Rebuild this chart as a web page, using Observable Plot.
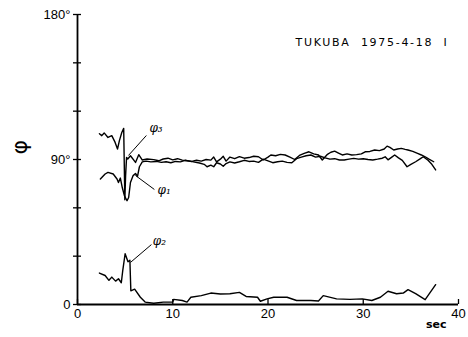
<!DOCTYPE html>
<html>
<head>
<meta charset="utf-8">
<script src="https://cdn.jsdelivr.net/npm/d3@7"></script>
<script src="https://cdn.jsdelivr.net/npm/@observablehq/plot@0.6"></script>
<style>
  html, body { margin: 0; padding: 0; background: #fff; }
  #chart svg { display: block; }
</style>
</head>
<body>
<div id="chart"></div>
<script>
// ---- data (seconds, degrees) ----
const phi3Time = [2.3,2.55,2.8,3.2,3.6,3.95,4.2,4.4,4.65,4.85,4.97,5.05,5.15,5.28,5.56,6.09,6.43,6.79,7.31,8.0,8.53,9.0,9.5,10.0,10.5,11.0,11.5,12.0,12.5,13.0,13.5,14.0,14.3,14.6,15.0,15.3,15.6,16.0,16.5,17.0,17.5,18.0,18.5,19.0,19.5,20.0,20.3,20.8,21.3,21.8,22.3,22.8,23.3,23.8,24.3,24.8,25.3,25.7,26.2,26.6,27.0,27.4,27.8,28.3,28.8,29.3,29.8,30.2,30.7,31.2,31.7,32.2,32.5,32.8,33.2,33.6,34.0,34.4,34.7,35.2,35.7,36.1,36.5,36.9,37.4];
const phi3Value = [106,104.8,106.5,103.7,104.8,100.6,96.5,101.7,106.8,109.3,65,80,91.3,90.3,92.3,88.2,93,89.7,90.3,89.9,89.2,90.3,90.8,89.8,90.5,89.6,89.2,88.8,89.5,89.0,90.0,89.6,91.5,88.5,90.2,92.0,89.0,91.5,90.5,91.8,90.8,91.2,92.0,91.7,89.7,91.5,92.8,92.3,93.2,92.8,91.5,90.0,92.5,93.8,94.8,93.5,92.8,89.7,93.0,94.5,95.2,94.0,92.8,93.5,92.8,93.0,93.5,94.8,95.0,95.9,95.5,96.5,98.3,97.5,95.9,96.5,96.9,96.3,95.9,95.0,93.8,92.8,91.7,90.2,88.6];

const phi1Time = [2.4,2.9,3.2,3.75,4.15,4.3,4.5,4.7,4.93,5.2,5.37,5.56,5.84,6.09,6.3,6.5,6.8,7.2,7.7,8.3,8.8,9.3,9.8,10.3,10.8,11.3,11.8,12.3,12.8,13.3,13.6,14.0,14.3,14.6,15.0,15.3,15.6,16.0,16.5,17.0,17.5,18.0,18.5,19.0,19.5,20.0,20.5,21.0,21.5,22.0,22.5,23.0,23.5,24.0,24.5,25.0,25.5,26.0,26.5,27.0,27.5,28.0,28.5,29.0,29.5,30.0,30.5,31.0,31.5,32.0,32.3,32.6,33.0,33.3,33.7,34.1,34.6,35.0,35.5,36.0,36.3,36.8,37.2,37.6];
const phi1Value = [77.9,81,82,81,77.9,75.7,78.5,72.6,67.5,64.4,66.4,75.7,80,81.3,79.5,85.5,88.5,89.0,88.5,88.8,88.2,88.6,88.0,88.8,88.5,89.5,89.0,88.4,87.8,87.0,85.5,86.5,85.5,88.0,87.2,85.8,87.5,88.5,87.8,88.6,89.5,88.8,89.0,88.2,90.2,89.2,88.0,88.6,89.0,88.2,88.0,90.5,91.5,92.3,92.8,91.5,92.0,91.0,90.2,90.5,89.7,89.7,90.2,90.7,90.2,90.5,90.0,89.7,90.2,90.8,91.7,89.8,91.5,92.8,91.0,89.5,85.5,87.0,88.6,90.5,91.7,89.5,87.0,83.5];

const phi2Time = [2.3,2.9,3.3,3.6,4.0,4.3,4.6,4.75,5.0,5.3,5.5,5.6,6.0,6.6,7.1,8.0,9.0,10.0,10.1,11.0,11.5,11.9,13.0,14.0,15.0,16.0,17.0,17.7,18.9,19.2,19.9,20.6,22.0,23.0,24.5,25.3,25.8,27.2,28.6,29.9,30.9,31.8,32.6,33.5,34.2,34.7,35.5,36.5,37.6];
const phi2Value = [19.5,18,15,17,14.5,16,13.5,21,31.5,26.5,27.5,8.5,9.5,4.5,1.5,0.8,1.5,1.5,3.2,2.5,1.5,4.5,5.5,7.1,6.5,6.7,7.5,5,4.5,2,3.5,4.5,4.5,2.5,2.5,2.2,5.5,3.5,3.2,3.5,2.5,4.5,8.2,6.7,7.1,9.2,6.7,3,12.3];

// annotation labels with leader lines (seconds, degrees)
const noteLabels = ["φ₃", "φ₁", "φ₂"];
const noteTextX = [7.55, 8.4, 7.9];
const noteTextY = [109.2, 70.8, 39.5];
const noteFromX = [7.23, 8.07, 7.76];
const noteFromY = [104.9, 71.4, 37.2];
const noteToX = [5.35, 6.08, 5.56];
const noteToY = [92.5, 80.1, 26.1];

const xTicks = [0, 10, 20, 30, 40];
const yTicks = [0, 30, 60, 90, 120, 150, 180];
const yTickLabels = {0: "0", 90: "90°", 180: "180°"};
const title = "TUKUBA\u00a0\u00a01975-4-18\u00a0\u00a0I";
const xUnit = "sec";
const yLabel = "φ";

// ---- build tables ----
const series = [
  ...phi3Time.map((t, i) => ({s: "phi3", t, v: phi3Value[i]})),
  ...phi1Time.map((t, i) => ({s: "phi1", t, v: phi1Value[i]})),
  ...phi2Time.map((t, i) => ({s: "phi2", t, v: phi2Value[i]}))
];
const notes = noteLabels.map((label, i) => ({
  label, tx: noteTextX[i], ty: noteTextY[i],
  x1: noteFromX[i], y1: noteFromY[i], x2: noteToX[i], y2: noteToY[i]
}));

const chart = Plot.plot({
  width: 468,
  height: 337,
  marginLeft: 77,
  marginRight: 10,
  marginTop: 14,
  marginBottom: 33,
  style: {fontFamily: "'Liberation Sans', Arial, sans-serif", color: "#000", background: "#fff"},
  x: {domain: [0, 40]},
  y: {domain: [0, 180]},
  marks: [
    Plot.ruleX([0], {stroke: "#000", strokeWidth: 1.8}),
    Plot.ruleY([0], {stroke: "#000", strokeWidth: 1.8}),
    Plot.axisY({anchor: "left", ticks: yTicks, tickSize: 8, dx: 4, tickPadding: 3,
      tickFormat: d => yTickLabels[d] ?? "", fontSize: 13, label: null, strokeWidth: 1.3}),
    Plot.axisX({anchor: "bottom", ticks: xTicks, tickSize: 5, dy: -5, tickPadding: 4,
      tickFormat: d => String(d), fontSize: 13, label: null, strokeWidth: 1.3}),
    Plot.line(series, {x: "t", y: "v", z: "s", stroke: "#000", strokeWidth: 1.4, curve: "linear"}),
    Plot.link(notes, {x1: "x1", y1: "y1", x2: "x2", y2: "y2", stroke: "#000", strokeWidth: 1}),
    Plot.text(notes, {x: "tx", y: "ty", text: "label", textAnchor: "start", fontSize: 12,
      fontStyle: "italic", fontFamily: "'DejaVu Serif', serif"}),
    Plot.text([title], {frameAnchor: "top-right", dx: -10, dy: 24, textAnchor: "end",
      fontSize: 11, fontFamily: "'DejaVu Sans', sans-serif", className: "ttl"}),
    Plot.text([xUnit], {frameAnchor: "bottom-right", dx: -12, dy: 23, textAnchor: "end",
      fontSize: 11, fontWeight: "bold", fontFamily: "'DejaVu Sans', sans-serif"}),
    Plot.text([yLabel], {frameAnchor: "left", dx: -58, dy: -5, rotate: -90, fontSize: 22,
      fontFamily: "'DejaVu Sans', sans-serif"})
  ]
});
document.getElementById("chart").appendChild(chart);
d3.select(chart).selectAll("g.ttl text").attr("letter-spacing", "1.7px");
</script>
</body>
</html>
